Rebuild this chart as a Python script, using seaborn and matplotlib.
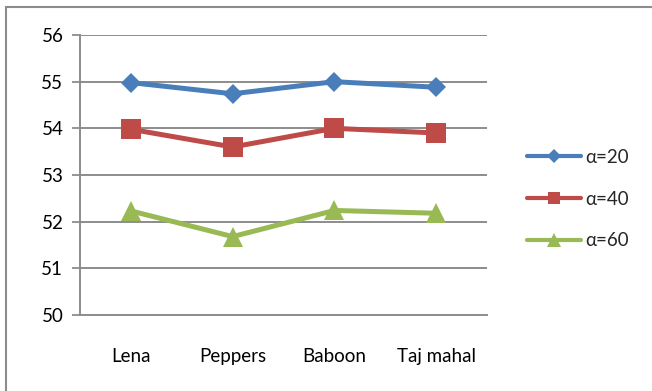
import matplotlib
matplotlib.use("Agg")
import matplotlib.pyplot as plt
from matplotlib.patches import Rectangle
from matplotlib.lines import Line2D
import seaborn as sns
import pandas as pd

# Test images and scores per alpha setting
images = ["Lena", "Peppers", "Baboon", "Taj mahal"]
alpha_20 = [54.98, 54.74, 55.0, 54.88]
alpha_40 = [53.98, 53.6, 54.0, 53.9]
alpha_60 = [52.23, 51.68, 52.24, 52.18]
series_labels = ["α=20", "α=40", "α=60"]
y_ticks = [50, 51, 52, 53, 54, 55, 56]

colors = ["#4a7ebb", "#be4b48", "#98b954"]
markers = ["D", "s", "^"]
marker_sizes = [10.5, 14, 15]

sns.set_theme(style="white")
plt.rcParams["font.family"] = ["Lato", "DejaVu Sans"]
FS = 13.5

df = pd.DataFrame({
    "image": images * 3,
    "x": list(range(len(images))) * 3,
    "value": alpha_20 + alpha_40 + alpha_60,
    "series": [series_labels[0]] * 4 + [series_labels[1]] * 4 + [series_labels[2]] * 4,
})

fig = plt.figure(figsize=(6.52, 3.91), dpi=100)
ax = fig.add_axes([0.1227, 0.1944, 0.6243, 0.7161])

# outer chart frame
fig.patches.append(Rectangle((6 / 652, -0.1), 1.2, 1 - 7 / 391 + 0.1,
                             transform=fig.transFigure, fill=False,
                             edgecolor="#8c8c8c", linewidth=1.5))

sns.lineplot(data=df, x="x", y="value", hue="series", style="series",
             palette=colors, markers=markers, dashes=False, sort=False,
             linewidth=3.6, markersize=10, markeredgewidth=0, ax=ax,
             legend=False)
for line, ms in zip(ax.lines, marker_sizes):
    line.set_markersize(ms)

ax.set_ylim(50, 56)
ax.set_xlim(-0.5, len(images) - 0.5)
ax.set_yticks(y_ticks)
ax.set_yticklabels([str(t) for t in y_ticks], fontsize=FS, color="#000000")
ax.set_xticks(range(len(images)))
ax.set_xticklabels(images, fontsize=FS, color="#000000")
ax.set_xticks([i - 0.5 for i in range(len(images) + 1)], minor=True)
ax.tick_params(axis="x", which="major", length=0, pad=24)
ax.tick_params(axis="x", which="minor", length=6, width=1.3, color="#8c8c8c", direction="out")
ax.tick_params(axis="y", which="major", length=6, width=1.3, color="#8c8c8c",
               direction="out", pad=6, left=True)
ax.set_xlabel("")
ax.set_ylabel("")

for v in y_ticks[1:]:
    ax.axhline(v, color="#8c8c8c", linewidth=1.4, zorder=0)

for side in ["top", "right"]:
    ax.spines[side].set_visible(False)
for side in ["left", "bottom"]:
    ax.spines[side].set_color("#8c8c8c")
    ax.spines[side].set_linewidth(1.4)

# legend
handles = [Line2D([0], [0], color=c, marker=m, linewidth=3, markersize=s * 0.65,
                  markeredgewidth=0)
           for c, m, s in zip(colors, markers, marker_sizes)]
fig.legend(handles, series_labels, loc="center left", bbox_to_anchor=(0.808, 0.491),
           frameon=False, fontsize=FS, handlelength=2.9, handletextpad=0.2,
           labelspacing=1.33, borderaxespad=0, borderpad=0)

fig.savefig("out.png", dpi=100)
